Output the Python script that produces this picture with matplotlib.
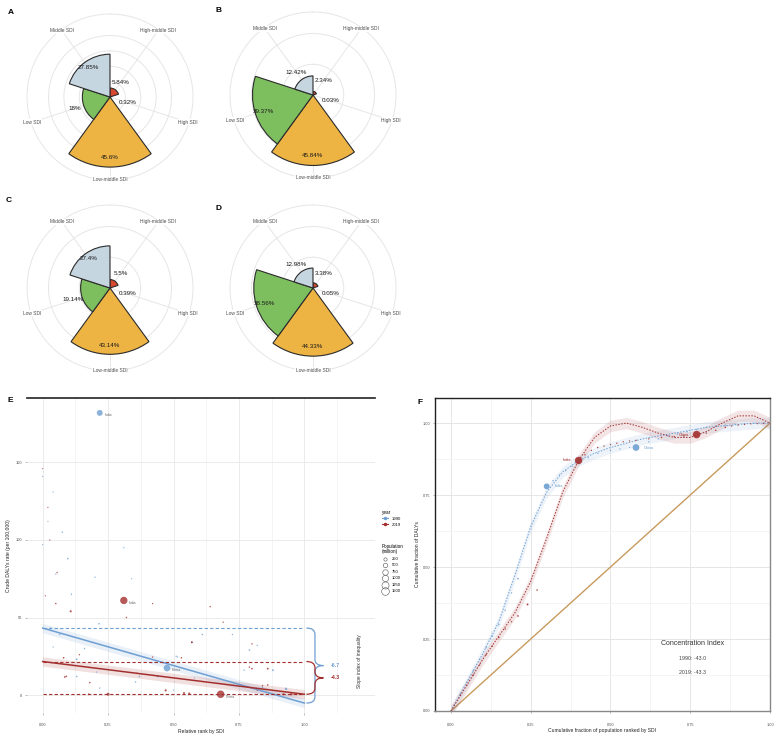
import numpy as np
import matplotlib.pyplot as plt
from matplotlib.lines import Line2D
from matplotlib.path import Path
from matplotlib.patches import PathPatch

plt.rcParams['font.family'] = ['Liberation Sans', 'DejaVu Sans']

W, H = 782, 738

# ---------------- datos: gráficos polares (A-D) ----------------
sdi_levels = ['High-middle SDI', 'High SDI', 'Low-middle SDI', 'Low SDI', 'Middle SDI']
sdi_colors = ['#D8472F', '#7B3F8C', '#EDB444', '#7DBE5E', '#C6D6E1']
share_A = [5.84, 0.32, 45.6, 18.0, 27.85]
share_B = [2.34, 0.03, 45.84, 39.37, 12.42]
share_C = [5.5, 0.39, 43.14, 19.14, 27.4]
share_D = [3.38, 0.05, 44.33, 38.56, 12.98]

# ---------------- datos: panel E (índice de pendiente) ----------------
years = ['1990', '2019']
year_colors = ['#6E9FD3', '#A3302F']

e_x_1990 = [0.218, 0.00, 0.04, 0.02, 0.075, 0.0, 0.31, 0.096, 0.20, 0.34, 0.05, 0.11, 0.215,
            0.03, 0.065, 0.13, 0.475, 0.57, 0.51, 0.61, 0.44, 0.725, 0.82, 0.79, 0.88, 0.93, 0.16, 0.37,
            0.04, 0.13, 0.206, 0.218, 0.515, 0.43, 0.355, 0.5, 0.77, 0.58, 0.84]
e_y_1990 = [182, 141, 131, 112, 105, 97, 95, 88, 76, 75, 78, 65, 46,
            43, 39, 23, 17.4, 34, 25, 39, 12, 39, 32, 29, 16, 4, 30, 12,
            31, 12, 14.8, 4.5, 24.5, 21, 8.4, 3.2, 16, 11, 5]
e_pop_1990 = [870, 8, 12, 6, 30, 10, 15, 40, 20, 9, 14, 25, 35,
              45, 18, 60, 1135, 50, 22, 30, 70, 15, 20, 40, 60, 120, 25, 30,
              10, 35, 12, 20, 15, 18, 25, 12, 20, 14, 30]

e_x_2019 = [0.0, 0.02, 0.027, 0.055, 0.01, 0.31, 0.05, 0.42, 0.107, 0.32, 0.08, 0.14, 0.09,
            0.68, 0.64, 0.69, 0.57, 0.80, 0.79, 0.86, 0.84, 0.53, 0.47, 0.56, 0.92, 0.95, 0.97, 0.985,
            0.18, 0.25, 0.36, 0.084, 0.176, 0.54, 0.42, 0.57, 0.80, 0.86, 0.82]
e_y_2019 = [146, 121, 100, 79, 64, 61, 59, 59, 54, 50, 24, 26, 12,
            0.5, 57, 47, 34, 33, 18, 17, 6, 24, 3, 1, 0.5, 0.5, 0.5, 0.5,
            8, 0.5, 14, 11.6, 0.5, 1.3, 24.5, 34, 17, 6.5, 3]
e_pop_2019 = [6, 8, 10, 18, 12, 1370, 30, 15, 90, 25, 45, 20, 50,
              1430, 25, 18, 40, 25, 30, 60, 20, 35, 95, 70, 80, 125, 65, 45,
              35, 210, 25, 40, 60, 75, 20, 30, 45, 35, 15]

# rectas de regresión (valor en x=0 y en x=1)
fit_start = [43.2, 21.6]
fit_end = [-5.2, 0.5]
sii_labels = ['-6.7', '-4.3']

big_labels_e = [('India', 0.218, 182, 0), ('India', 0.31, 61, 1),
                ('China', 0.475, 17.4, 0), ('China', 0.68, 0.5, 1)]

pop_legend = [250, 500, 750, 1000, 1250, 1500]

# ---------------- datos: panel F (curva de concentración) ----------------
f_x_1990 = [0.01, 0.03, 0.05, 0.07, 0.09, 0.11, 0.13, 0.15, 0.17, 0.19, 0.21, 0.30, 0.32, 0.34,
            0.36, 0.38, 0.40, 0.43, 0.46, 0.50, 0.53, 0.56, 0.58, 0.62, 0.65, 0.68, 0.71, 0.74,
            0.77, 0.80, 0.83, 0.86, 0.89, 0.92, 0.95, 0.98, 1.0]
f_y_1990 = [0.02, 0.06, 0.10, 0.14, 0.18, 0.22, 0.26, 0.30, 0.35, 0.41, 0.46, 0.78, 0.80, 0.82,
            0.835, 0.85, 0.86, 0.88, 0.895, 0.905, 0.91, 0.915, 0.915, 0.935, 0.945, 0.955, 0.962,
            0.97, 0.978, 0.985, 0.99, 0.993, 0.996, 0.998, 0.999, 1.0, 1.0]
f_pop_1990 = [8, 15, 10, 20, 12, 25, 18, 30, 22, 14, 40, 870, 20, 12,
              25, 15, 30, 18, 10, 22, 16, 12, 1135, 20, 14, 30, 18, 25,
              12, 16, 20, 10, 14, 8, 12, 6, 5]

f_x_2019 = [0.01, 0.03, 0.05, 0.07, 0.09, 0.11, 0.13, 0.15, 0.17, 0.19, 0.21, 0.24, 0.27, 0.40,
            0.42, 0.44, 0.46, 0.48, 0.50, 0.52, 0.54, 0.56, 0.58, 0.62, 0.66, 0.70, 0.73, 0.77,
            0.80, 0.83, 0.86, 0.88, 0.90, 0.92, 0.94, 0.96, 0.98, 1.0]
f_y_2019 = [0.02, 0.055, 0.09, 0.125, 0.16, 0.195, 0.225, 0.255, 0.285, 0.31, 0.33, 0.37, 0.42, 0.87,
            0.89, 0.905, 0.915, 0.92, 0.925, 0.93, 0.935, 0.938, 0.94, 0.945, 0.95, 0.953, 0.955,
            0.96, 0.965, 0.975, 0.985, 0.99, 0.993, 0.995, 0.997, 0.998, 0.999, 1.0]
f_pop_2019 = [10, 18, 12, 25, 15, 30, 20, 35, 25, 18, 45, 60, 30, 1370,
              20, 15, 25, 18, 12, 22, 16, 12, 20, 15, 25, 18, 30, 1430,
              20, 25, 30, 18, 22, 14, 12, 10, 8, 6]

# curvas suavizadas
smooth_x = [0.0, 0.05, 0.10, 0.15, 0.20, 0.25, 0.30, 0.35, 0.40, 0.45, 0.50,
            0.55, 0.60, 0.65, 0.70, 0.75, 0.80, 0.85, 0.90, 0.95, 1.0]
smooth_1990 = [0.0, 0.10, 0.20, 0.31, 0.47, 0.64, 0.76, 0.83, 0.87, 0.895, 0.915,
               0.93, 0.945, 0.955, 0.965, 0.975, 0.985, 0.99, 0.995, 1.0, 1.0]
smooth_2019 = [0.0, 0.09, 0.18, 0.26, 0.34, 0.45, 0.60, 0.76, 0.87, 0.95, 0.99,
               1.0, 0.985, 0.965, 0.95, 0.95, 0.97, 1.0, 1.025, 1.025, 1.0]
big_labels_f = [('India', 0.30, 0.78, 0, 'left'), ('India', 0.40, 0.87, 1, 'right'),
                ('China', 0.58, 0.915, 0, 'left'), ('China', 0.77, 0.96, 1, 'right')]

conc_index = ['-43.0', '-43.3']


def px_rect(x0, y0, x1, y1):
    return [x0 / W, 1 - y1 / H, (x1 - x0) / W, (y1 - y0) / H]


def pop_size(pop):
    return 0.6 + np.asarray(pop) * 0.02


def label_radius(v):
    if v > 25:
        return 0.86 * v
    if v >= 10:
        return v + 6
    return 12


fig = plt.figure(figsize=(W / 100, H / 100), dpi=100)


def rose(rect, values, letter, letter_xy, breaks):
    ax = fig.add_axes(px_rect(*rect), projection='polar')
    ax.set_theta_zero_location('N')
    ax.set_theta_direction(-1)
    n = len(values)
    width = 2 * np.pi / n
    starts = np.arange(n) * width
    ax.bar(starts, values, width=width, align='edge', color=sdi_colors,
           edgecolor='#2b2b2b', linewidth=0.8, zorder=3)
    rmax = 54
    ax.set_ylim(0, rmax)
    ax.set_xticks(starts + width / 2)
    ax.set_xticklabels([])
    ax.set_yticks(breaks)
    ax.set_yticklabels([])
    ax.grid(True, color='#E6E6E6', linewidth=0.7)
    ax.spines['polar'].set_color('#E6E6E6')
    ax.spines['polar'].set_linewidth(0.7)
    for th, lab in zip(starts + width / 2, sdi_levels):
        ax.text(th, rmax * 0.99, lab, fontsize=3.5, color='#4D4D4D',
                ha='center', va='center', zorder=6,
                bbox=dict(boxstyle='square,pad=0.1', fc='white', ec='none'))
    for th, v in zip(starts + width / 2, values):
        ax.text(th, label_radius(v), f'{v:g}%', fontsize=4.5, color='#1a1a1a',
                ha='center', va='center', zorder=6)
    fig.text(letter_xy[0] / W, 1 - letter_xy[1] / H, letter, fontsize=6,
             fontweight='bold', ha='left', va='center')


rose((27, 14, 193, 180), share_A, 'A', (8, 12), [10, 20, 30, 40])
rose((230, 12, 396, 178), share_B, 'B', (216, 11), [20, 40])
rose((27, 205, 193, 371), share_C, 'C', (6, 201), [20, 40])
rose((230, 205, 396, 371), share_D, 'D', (216, 208), [20, 40])

# ---------------- panel E ----------------
axE = fig.add_axes(px_rect(27, 398, 375, 713))
axE.set_xlim(-0.06, 1.27)
axE.set_ylim(-11.6, 191.6)
axE.set_xticks([0, 0.25, 0.5, 0.75, 1.0])
axE.set_xticklabels(['0.00', '0.25', '0.50', '0.75', '1.00'])
axE.set_xticks([0.125, 0.375, 0.625, 0.875, 1.125], minor=True)
axE.set_yticks([0, 50, 100, 150])
axE.grid(True, which='major', color='#EBEBEB', linewidth=0.7)
axE.grid(True, which='minor', axis='x', color='#F3F3F3', linewidth=0.6)
axE.set_axisbelow(True)
for s in ['left', 'right', 'bottom']:
    axE.spines[s].set_visible(False)
axE.spines['top'].set_color('#222222')
axE.spines['top'].set_linewidth(1.2)
axE.tick_params(which='both', length=1.5, width=0.4, color='#888888', labelsize=2.8,
                labelcolor='#4D4D4D', pad=6)
axE.tick_params(which='minor', length=0)
axE.tick_params(axis='y', pad=2)

xs = [0.0, 1.0]
for i, (ex, ey, ep) in enumerate([(e_x_1990, e_y_1990, e_pop_1990),
                                   (e_x_2019, e_y_2019, e_pop_2019)]):
    c = year_colors[i]
    axE.scatter(ex, ey, s=pop_size(ep), color=c, alpha=0.8, linewidths=0, zorder=3)
    fit = [fit_start[i], fit_end[i]]
    axE.fill_between(xs, [f - 3 for f in fit], [f + 3 for f in fit], color=c, alpha=0.15,
                     linewidth=0, zorder=2)
    axE.plot(xs, fit, color=c, linewidth=1.1, zorder=4)
    axE.plot(xs, [fit_start[i]] * 2, color=c, linewidth=0.8, linestyle=(0, (3, 2)), zorder=4)
axE.plot(xs, [fit_end[1]] * 2, color=year_colors[1], linewidth=0.8, linestyle=(0, (3, 2)), zorder=4)

for name, x, y, k in big_labels_e:
    axE.text(x + 0.02, y - 1.5, name, fontsize=2.5, color='#666666', ha='left', va='center')


def brace(ax, x0, y_top, y_bot, w, color):
    xm = x0 + w / 2
    ym = (y_top + y_bot) / 2
    r = min(4.0, (y_top - y_bot) / 4)
    verts = [(x0, y_top), (xm, y_top), (xm, y_top - r),
             (xm, ym + r),
             (xm, ym), (x0 + w, ym),
             (xm, ym), (xm, ym - r),
             (xm, y_bot + r),
             (xm, y_bot), (x0, y_bot)]
    codes = [Path.MOVETO, Path.CURVE3, Path.CURVE3, Path.LINETO,
             Path.CURVE3, Path.CURVE3, Path.CURVE3, Path.CURVE3,
             Path.LINETO, Path.CURVE3, Path.CURVE3]
    ax.add_patch(PathPatch(Path(verts, codes), fc='none', ec=color, lw=0.9, zorder=5))
    return ym


for i in range(2):
    ym = brace(axE, 1.008, fit_start[i], fit_end[i], 0.065, year_colors[i])
    axE.text(1.1, ym, sii_labels[i], fontsize=3.8, color=year_colors[i], fontweight='bold',
             ha='left', va='center')

axE.text(1.21, 22, 'Slope index of inequality', rotation=90, fontsize=3.5,
         color='#333333', ha='center', va='center')
axE.set_xlabel('Relative rank by SDI', fontsize=3.6, color='#222222', labelpad=1)
axE.set_ylabel('Crude DALYs rate (per 100,000)', fontsize=3.6, color='#222222', labelpad=3)
fig.text(7 / W, 1 - 401 / H, 'E', fontsize=6, fontweight='bold', ha='left', va='center')

# leyendas
year_handles = [Line2D([0], [0], color=c, lw=0.8, marker='o', markersize=1.5) for c in year_colors]
leg1 = fig.legend(year_handles, years, title='year', loc='upper left',
                  bbox_to_anchor=(380 / W, 1 - 508 / H), frameon=False, fontsize=3,
                  title_fontsize=3.3, handlelength=1.6, labelspacing=0.5, borderaxespad=0)
leg1._legend_box.align = 'left'
pop_handles = [Line2D([0], [0], linestyle='none', marker='o', markerfacecolor='none',
                      markeredgecolor='#555555', markeredgewidth=0.4,
                      markersize=np.sqrt(pop_size(p))) for p in pop_legend]
leg2 = fig.legend(pop_handles, [str(p) for p in pop_legend], title='Population\n(million)',
                  loc='upper left', bbox_to_anchor=(380 / W, 1 - 542 / H), frameon=False,
                  fontsize=3, title_fontsize=3.3, handlelength=1.6, labelspacing=0.6,
                  borderaxespad=0)
leg2._legend_box.align = 'left'

# ---------------- panel F ----------------
axF = fig.add_axes(px_rect(435, 398, 770, 711))
axF.set_xlim(-0.05, 1.0)
axF.set_ylim(0, 1.087)
ticks = [0, 0.25, 0.5, 0.75, 1.0]
axF.set_xticks(ticks)
axF.set_xticklabels(['0.00', '0.25', '0.50', '0.75', '1.00'])
axF.set_yticks(ticks)
axF.set_yticklabels(['0.00', '0.25', '0.50', '0.75', '1.00'])
axF.set_xticks([0.125, 0.375, 0.625, 0.875], minor=True)
axF.set_yticks([0.125, 0.375, 0.625, 0.875], minor=True)
axF.grid(True, which='major', color='#E6E6E6', linewidth=0.7)
axF.grid(True, which='minor', color='#F2F2F2', linewidth=0.6)
axF.set_axisbelow(True)
axF.spines['top'].set_color('#222222')
axF.spines['left'].set_color('#222222')
axF.spines['right'].set_color('#888888')
axF.spines['bottom'].set_color('#888888')
for s in axF.spines.values():
    s.set_linewidth(1.0)
axF.tick_params(which='both', length=1.5, width=0.4, color='#888888', labelsize=2.8,
                labelcolor='#4D4D4D', pad=2)
axF.tick_params(axis='x', pad=7)
axF.tick_params(which='minor', length=0)

axF.plot([0, 1], [0, 1], color='#C89A5E', linewidth=1.0, zorder=2)
for i, (sy, fx, fy, fp) in enumerate([(smooth_1990, f_x_1990, f_y_1990, f_pop_1990),
                                       (smooth_2019, f_x_2019, f_y_2019, f_pop_2019)]):
    c = year_colors[i]
    sy = np.array(sy)
    axF.fill_between(smooth_x, sy - 0.02, sy + 0.02, color=c, alpha=0.12, linewidth=0, zorder=2)
    axF.plot(smooth_x, sy, color=c, linewidth=0.7, linestyle=(0, (1.5, 1.5)), zorder=3)
    axF.scatter(fx, fy, s=pop_size(fp), color=c, alpha=0.9, linewidths=0, zorder=4)

for name, x, y, k, ha in big_labels_f:
    dx = 0.025 if ha == 'left' else -0.025
    axF.text(x + dx, y, name, fontsize=2.8, color=year_colors[k], ha=ha, va='center', zorder=5)

axF.text(0.756, 0.236, 'Concentration Index', fontsize=5, color='#333333', ha='center', va='center')
axF.text(0.756, 0.184, f'1990: {conc_index[0]}', fontsize=3.8, color='#444444', ha='center', va='center')
axF.text(0.756, 0.132, f'2019: {conc_index[1]}', fontsize=3.8, color='#444444', ha='center', va='center')

axF.set_xlabel('Cumulative fraction of population ranked by SDI', fontsize=3.6, color='#222222',
               labelpad=1)
axF.set_ylabel('Cumulative fraction of DALYs', fontsize=3.6, color='#222222', labelpad=2)
fig.text(417 / W, 1 - 402 / H, 'F', fontsize=6, fontweight='bold', ha='left', va='center')

fig.savefig('out.png', dpi=100, facecolor='white')
